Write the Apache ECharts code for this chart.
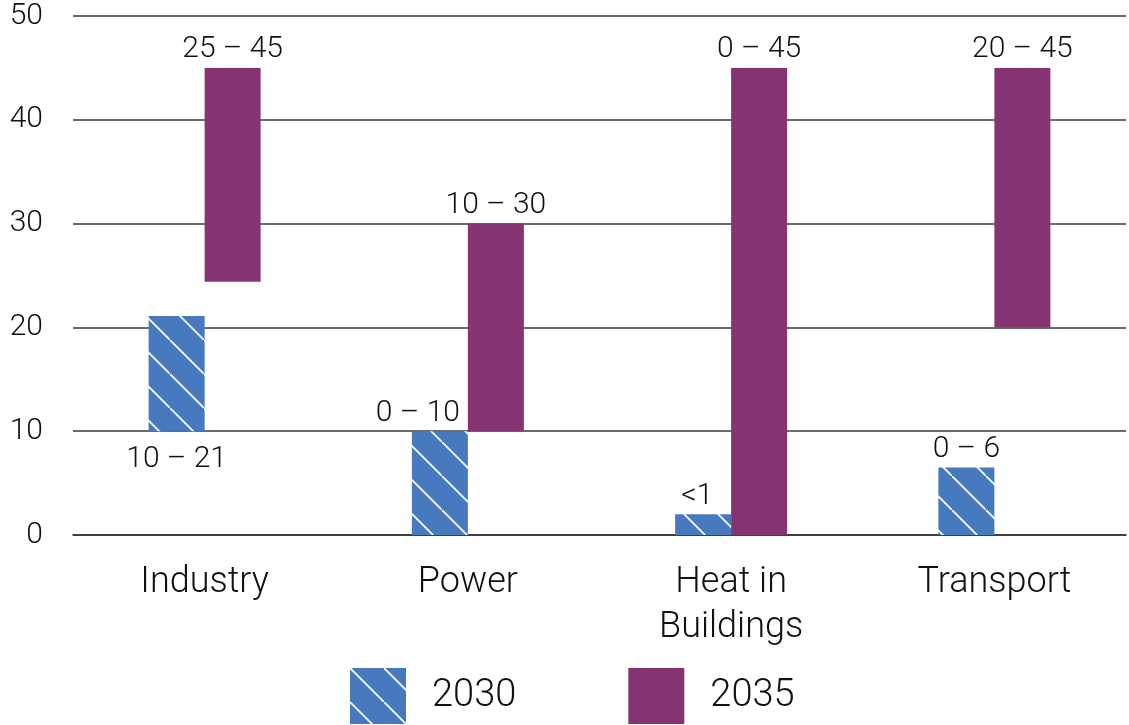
<!DOCTYPE html>
<html>
<head>
<meta charset="utf-8">
<style>
  html, body { margin: 0; padding: 0; background: #fff; }
  #chart { width: 1129px; height: 725px; }
</style>
<script src="https://cdn.jsdelivr.net/npm/echarts@6/dist/echarts.min.js"></script>
</head>
<body>
<div id="chart"></div>
<script>
// ---- data ----
var categories = ['Industry', 'Power', 'Heat in\nBuildings', 'Transport'];
var low2030  = [10, 0, 0, 0];
var high2030 = [21.1, 10, 2, 6.5];
var low2035  = [24.4, 10, 0, 20];
var high2035 = [45, 30, 45, 45];
var labels2030 = ['10 – 21', '0 – 10', '<1', '0 – 6'];
var labels2035 = ['25 – 45', '10 – 30', '0 – 45', '20 – 45'];
var yTicks = [0, 10, 20, 30, 40, 50];

var BLUE = '#4679bd';
var PURPLE = '#843373';
var FONT = 'Roboto, "Liberation Sans", sans-serif';

// hatch pattern
var tile = document.createElement('canvas');
tile.width = 34; tile.height = 34;
var c = tile.getContext('2d');
c.fillStyle = BLUE; c.fillRect(0, 0, 34, 34);
c.strokeStyle = '#ffffff'; c.lineWidth = 1.8;
c.beginPath();
c.moveTo(-4, -4); c.lineTo(38, 38);
c.stroke();
var hatch = { image: tile, repeat: 'repeat' };

function diff(hi, lo) { return hi.map(function (v, i) { return +(v - lo[i]).toFixed(2); }); }

var d2030 = diff(high2030, low2030).map(function (v, i) {
  var item = { value: v, label: { formatter: labels2030[i] } };
  if (i === 0) { item.label.position = 'bottom'; item.label.distance = 13; }
  if (i === 1) item.label.offset = [-22, 0];
  if (i === 2) item.label.offset = [-6, 0];
  return item;
});
var d2035 = diff(high2035, low2035).map(function (v, i) {
  return { value: v, label: { formatter: labels2035[i] } };
});

var labelStyle = { show: true, position: 'top', distance: 3, color: '#111', fontSize: 30, fontFamily: FONT, fontWeight: 300 };

var chart = echarts.init(document.getElementById('chart'), null, { renderer: 'canvas' });
chart.setOption({
  animation: false,
  textStyle: { fontFamily: FONT },
  grid: { left: 73, right: 3, top: 16, bottom: 190, containLabel: false },
  legend: {
    data: ['2030', '2035'],
    icon: 'rect',
    left: 345, top: 663,
    itemWidth: 56, itemHeight: 56, itemGap: 112,
    textStyle: { fontSize: 38, color: '#111', fontFamily: FONT, fontWeight: 300, width: 100, padding: [8, 0, 0, 21] }
  },
  xAxis: {
    type: 'category',
    data: categories,
    axisLine: { show: true, lineStyle: { color: '#333', width: 1.5 } },
    axisTick: { show: false },
    axisLabel: { color: '#111', fontSize: 36, fontFamily: FONT, fontWeight: 300, margin: 25, lineHeight: 45 }
  },
  yAxis: {
    type: 'value',
    min: yTicks[0], max: yTicks[yTicks.length - 1], interval: 10,
    axisLine: { show: false },
    axisTick: { show: false },
    axisLabel: { color: '#111', fontSize: 30, fontFamily: FONT, fontWeight: 300, margin: 30 },
    splitLine: { show: true, lineStyle: { color: '#3a3a3a', width: 1.5 } }
  },
  series: [
    { name: 'base2030', type: 'bar', stack: 'a', data: low2030, barWidth: 56, barGap: '0%',
      itemStyle: { color: 'transparent' }, emphasis: { disabled: true }, silent: true },
    { name: '2030', type: 'bar', stack: 'a', data: d2030, barWidth: 56, barGap: '0%',
      itemStyle: { color: hatch }, label: labelStyle },
    { name: 'base2035', type: 'bar', stack: 'b', data: low2035, barWidth: 56, barGap: '0%',
      itemStyle: { color: 'transparent' }, emphasis: { disabled: true }, silent: true },
    { name: '2035', type: 'bar', stack: 'b', data: d2035, barWidth: 56, barGap: '0%',
      itemStyle: { color: PURPLE }, label: labelStyle }
  ]
});
</script>
</body>
</html>
